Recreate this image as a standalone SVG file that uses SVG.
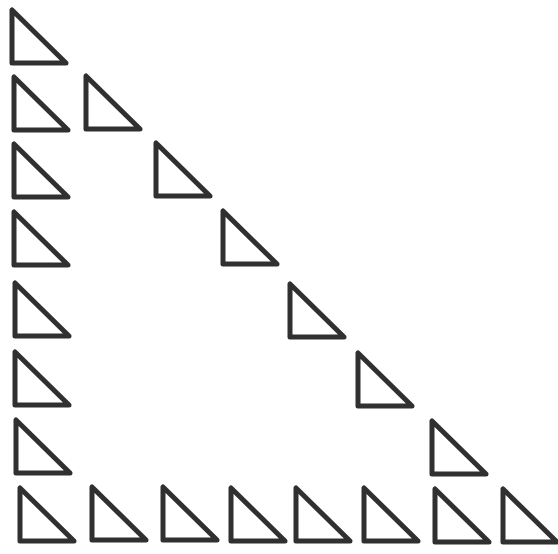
<svg xmlns="http://www.w3.org/2000/svg" width="558" height="554" viewBox="0 0 558 554">
<defs>
<style>
.t{fill:none;stroke:#1a1a1a;stroke-width:5;stroke-linejoin:round;opacity:0.9}
</style>
<polygon id="tri" class="t" points="0,0 0,53 54,53"/>
</defs>
<rect width="558" height="554" fill="#fff"/>
<g id="col">
<g id="n1"><use href="#tri" x="12" y="10"/></g>
<g id="n2"><use href="#tri" x="14" y="77"/></g>
<g id="n3"><use href="#tri" x="14" y="144"/></g>
<g id="n4"><use href="#tri" x="14" y="212"/></g>
<g id="n5"><use href="#tri" x="15" y="283"/></g>
<g id="n6"><use href="#tri" x="15" y="352"/></g>
<g id="n7"><use href="#tri" x="16" y="420"/></g>
<g id="n8"><use href="#tri" x="20" y="488"/></g>
</g>
<g id="diag">
<g id="d2"><use href="#tri" x="86" y="76"/></g>
<g id="d3"><use href="#tri" x="156" y="143"/></g>
<g id="d4"><use href="#tri" x="223" y="211"/></g>
<g id="d5"><use href="#tri" x="290" y="284"/></g>
<g id="d6"><use href="#tri" x="358" y="353"/></g>
<g id="d7"><use href="#tri" x="432" y="421"/></g>
</g>
<g id="row">
<g id="b2"><use href="#tri" x="92" y="487"/></g>
<g id="b3"><use href="#tri" x="163" y="487"/></g>
<g id="b4"><use href="#tri" x="231" y="488"/></g>
<g id="b5"><use href="#tri" x="296" y="488"/></g>
<g id="b6"><use href="#tri" x="364" y="488"/></g>
<g id="b7"><use href="#tri" x="435" y="489"/></g>
<g id="b8"><use href="#tri" x="503" y="489"/></g>
</g>
<g id="connectors"/>
</svg>
